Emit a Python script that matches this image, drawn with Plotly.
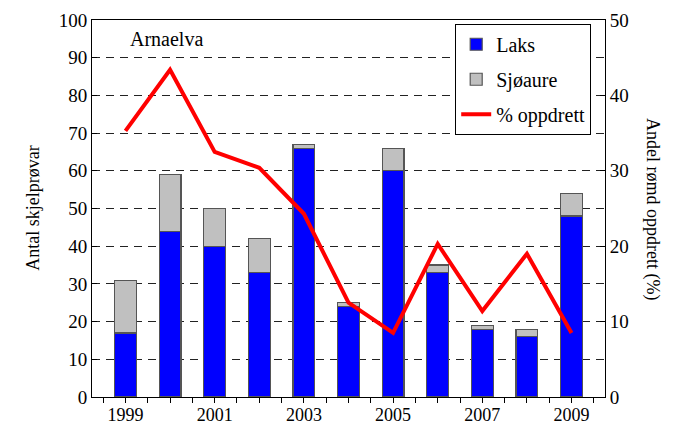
import plotly.graph_objects as go

years = [1999, 2000, 2001, 2002, 2003, 2004, 2005, 2006, 2007, 2008, 2009]
laks = [17, 44, 40, 33, 66, 24, 60, 33, 18, 16, 48]
sjoaure = [14, 15, 10, 9, 1, 1, 6, 2, 1, 2, 6]
pct_oppdrett = [35.3, 43.4, 32.5, 30.4, 24.3, 12.5, 8.5, 20.3, 11.4, 19.0, 8.5]

x_tickvals = [1998.5 + 0.5 * i for i in range(23)]
x_ticktext = [str(int(v)) if v == int(v) and int(v) % 2 == 1 else "" for v in x_tickvals]

font = "Times New Roman, Liberation Serif, serif"

fig = go.Figure()
fig.add_trace(go.Bar(x=years, y=laks, name="Laks", width=0.49, legendgroup="a",
                     marker=dict(color="#0000FF", line=dict(color="#555555", width=1.2))))
fig.add_trace(go.Bar(x=years, y=sjoaure, name="Sjøaure", width=0.49, legendgroup="b",
                     marker=dict(color="#C0C0C0", line=dict(color="#555555", width=1.2))))
fig.add_trace(go.Scatter(x=years, y=pct_oppdrett, name="% oppdrett", yaxis="y2",
                         legendgroup="c", mode="lines",
                         line=dict(color="#FF0000", width=4)))

# page body adds an 8px offset, so the figure is drawn 8px smaller
fig.update_layout(
    barmode="stack",
    width=671, height=419,
    margin=dict(l=84, r=74, t=12, b=30, autoexpand=False),
    plot_bgcolor="white", paper_bgcolor="white",
    font=dict(family=font, size=18, color="black"),
    showlegend=True,
    legend=dict(x=0.708, y=0.99, xanchor="left", yanchor="top",
                bordercolor="black", borderwidth=1, bgcolor="white",
                font=dict(family=font, size=20), traceorder="grouped",
                tracegroupgap=6),
    xaxis=dict(range=[1998.25, 2009.75], tickvals=x_tickvals, ticktext=x_ticktext,
               ticks="outside", ticklen=5, tickcolor="black", showgrid=False,
               tickfont=dict(family=font, size=18), ticklabelstandoff=-4,
               showline=True, linecolor="black", linewidth=1, mirror=True, zeroline=False),
    yaxis=dict(range=[0, 100], dtick=10, ticks="inside", ticklen=5, tickcolor="black",
               tickfont=dict(family=font, size=19),
               showline=True, linecolor="black", linewidth=1, zeroline=False,
               showgrid=True, gridcolor="#222222", griddash="8px,6px", gridwidth=1),
    yaxis2=dict(range=[0, 50], dtick=10, overlaying="y", side="right",
                tickfont=dict(family=font, size=19),
                ticks="inside", ticklen=5, tickcolor="black", showgrid=False,
                showline=True, linecolor="black", linewidth=1, zeroline=False),
    annotations=[
        dict(text="Arnaelva", x=0.07, y=0.985, xref="paper", yref="paper",
             xanchor="left", yanchor="top", showarrow=False,
             font=dict(family=font, size=20)),
        dict(text="Antal skjelprøvar", x=-0.14, y=0.5, xref="paper", yref="paper",
             textangle=-90, showarrow=False, font=dict(family=font, size=18)),
        dict(text="Andel rømd oppdrett (%)", x=1.117, y=0.5, xref="paper", yref="paper",
             textangle=90, showarrow=False, font=dict(family=font, size=18)),
    ],
)

fig.write_html("out.html")
